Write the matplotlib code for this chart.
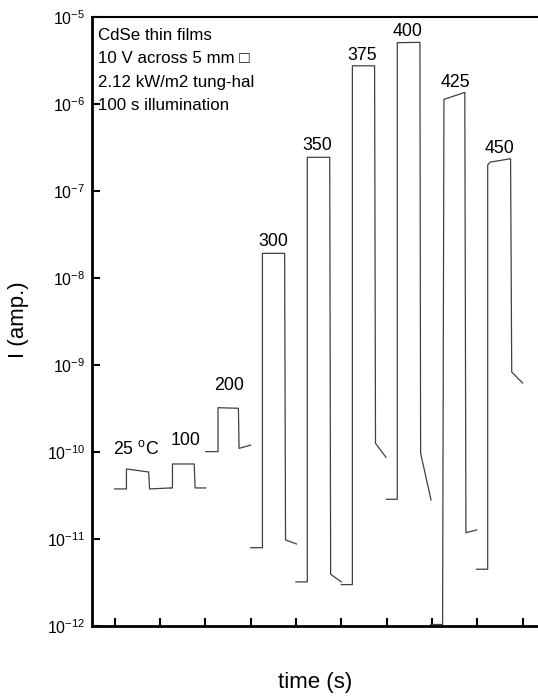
import matplotlib
matplotlib.use("Agg")
import matplotlib.pyplot as plt
import numpy as np

plt.rcParams['font.family'] = ['Liberation Sans', 'DejaVu Sans']
plt.rcParams['mathtext.fontset'] = 'custom'
plt.rcParams['mathtext.rm'] = 'Liberation Sans'

# pulses: time (s) and current (A), one trace per anneal temperature
t_25 = [100, 152, 152, 250, 254, 347]
i_25 = [3.76e-11, 3.76e-11, 6.38e-11, 5.89e-11, 3.76e-11, 3.86e-11]

t_100 = [347, 355, 355, 451, 455, 502]
i_100 = [3.86e-11, 3.86e-11, 7.28e-11, 7.28e-11, 3.86e-11, 3.86e-11]

t_200 = [502, 556, 556, 646, 649, 700]
i_200 = [1.01e-10, 1.01e-10, 3.23e-10, 3.18e-10, 1.10e-10, 1.20e-10]

t_300 = [700, 752, 752, 850, 854, 902]
i_300 = [7.94e-12, 7.94e-12, 1.92e-8, 1.92e-8, 9.75e-12, 8.77e-12]

t_350 = [900, 950, 950, 1049, 1053, 1100]
i_350 = [3.21e-12, 3.21e-12, 2.44e-7, 2.44e-7, 3.93e-12, 3.21e-12]

t_375 = [1100, 1149, 1149, 1247, 1251, 1297]
i_375 = [2.99e-12, 2.99e-12, 2.75e-6, 2.75e-6, 1.26e-10, 8.69e-11]

t_400 = [1299, 1347, 1347, 1447, 1450, 1496]
i_400 = [2.86e-11, 2.86e-11, 5.07e-6, 5.12e-6, 9.66e-11, 2.81e-11]

t_425 = [1494, 1547, 1553, 1645, 1650, 1697]
i_425 = [1.04e-12, 1.04e-12, 1.13e-6, 1.36e-6, 1.18e-11, 1.27e-11]

t_450 = [1697, 1746, 1746, 1757, 1847, 1852, 1900]
i_450 = [4.49e-12, 4.49e-12, 1.99e-7, 2.15e-7, 2.35e-7, 8.32e-10, 6.21e-10]

traces = [(t_25, i_25), (t_100, i_100), (t_200, i_200), (t_300, i_300),
          (t_350, i_350), (t_375, i_375), (t_400, i_400), (t_425, i_425),
          (t_450, i_450)]

temp_labels = ['25 $^{\\mathrm{o}}$C', '100', '200', '300', '350', '375', '400', '425', '450']
label_t = [193, 413, 607, 801, 996, 1194, 1393, 1605, 1799]
label_i = [1.08e-10, 1.34e-10, 5.74e-10, 2.66e-8, 3.38e-7, 3.66e-6, 6.73e-6, 1.79e-6, 3.12e-7]

notes = ['CdSe thin films', '10 V across 5 mm \u25a1', '2.12 kW/m2 tung-hal', '100 s illumination']

y_ticks = [1e-12, 1e-11, 1e-10, 1e-9, 1e-8, 1e-7, 1e-6, 1e-5]
y_tick_labels = ['$10^{-12}$', '$10^{-11}$', '$10^{-10}$', '$10^{-9}$', '$10^{-8}$',
                 '$10^{-7}$', '$10^{-6}$', '$10^{-5}$']
x_ticks = np.arange(100, 2000, 200)

fig = plt.figure(figsize=(5.38, 6.98), dpi=100)
ax = fig.add_axes([0.171, 0.1032, 0.829, 0.8724])

for tt, ii in traces:
    ax.plot(tt, ii, color='#404040', lw=0.9)

for lab, tx, iy in zip(temp_labels, label_t, label_i):
    ax.text(tx, iy, lab, ha='center', va='center', fontsize=12.8)

for k, s in enumerate(notes):
    ax.text(0.0135, 0.970 - k * 0.0385, s, transform=ax.transAxes,
            ha='left', va='center', fontsize=12.2)

ax.set_yscale('log')
ax.set_ylim(1e-12, 1e-5)
ax.set_xlim(0, 1968)
ax.set_yticks(y_ticks)
ax.set_yticklabels(y_tick_labels, fontsize=11.5)
ax.yaxis.set_minor_locator(matplotlib.ticker.NullLocator())
ax.set_xticks(x_ticks)
ax.set_xticklabels([])

ax.tick_params(direction='in', length=6, width=1.5, pad=5)
ax.spines['right'].set_visible(False)
ax.spines['left'].set_linewidth(2)
ax.spines['bottom'].set_linewidth(2)
ax.spines['top'].set_linewidth(1.5)

fig.text(0.034, 0.542, 'I (amp.)', rotation=90, ha='center', va='center', fontsize=16)
fig.text(0.585, 0.022, 'time (s)', ha='center', va='center', fontsize=16)

fig.savefig('out.png', dpi=100)
